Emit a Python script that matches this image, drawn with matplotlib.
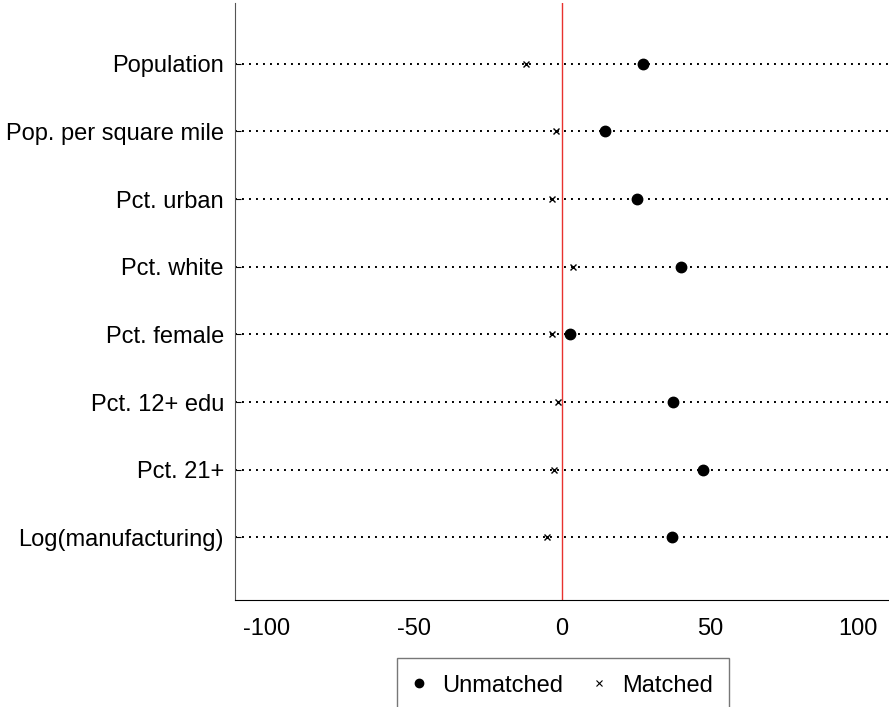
import matplotlib
matplotlib.use("Agg")
import matplotlib.pyplot as plt
from matplotlib.lines import Line2D

plt.rcParams['font.family'] = ['Liberation Sans', 'DejaVu Sans']

categories = ["Population", "Pop. per square mile", "Pct. urban", "Pct. white",
              "Pct. female", "Pct. 12+ edu", "Pct. 21+", "Log(manufacturing)"]
unmatched = [27.3, 14.5, 25.3, 40.1, 2.7, 37.4, 47.5, 37.1]
matched = [-12.1, -2.0, -3.4, 3.7, -3.4, -1.3, -2.7, -5.1]
xticks = [-100, -50, 0, 50, 100]

fig = plt.figure(figsize=(8.89, 7.07), dpi=100)
ax = fig.add_axes([0.2644, 0.151, 0.7356, 0.845])

n = len(categories)
ypos = list(range(n, 0, -1))

for y in ypos:
    ax.axhline(y, color='black', linestyle=(0, (1, 2.6)), linewidth=1.4, zorder=1)
ax.axvline(0, color='#e8322e', linewidth=1.0, zorder=2)

ax.plot(unmatched, ypos, linestyle='none', marker='o', color='black', markersize=7.5, zorder=3)
ax.plot(matched, ypos, linestyle='none', marker='x', color='black', markersize=5,
        markeredgewidth=1.0, zorder=3)

ax.set_xlim(-110.5, 110.5)
ax.set_ylim(0.07, 8.9)
ax.set_yticks(ypos)
ax.set_yticklabels(categories, fontsize=17)
ax.set_xticks(xticks)
ax.set_xticklabels([str(t) for t in xticks], fontsize=17)
ax.tick_params(axis='x', length=0, pad=13)
ax.tick_params(axis='y', direction='in', length=4, pad=8, color='black')

for s in ['top', 'right']:
    ax.spines[s].set_visible(False)
ax.spines['left'].set_color('#555555')
ax.spines['bottom'].set_color('black')

handles = [Line2D([], [], linestyle='none', marker='o', color='black', markersize=6),
           Line2D([], [], linestyle='none', marker='x', color='black', markersize=4,
                  markeredgewidth=0.8)]
leg = fig.legend(handles, ["Unmatched", "Matched"], loc='upper center',
                 bbox_to_anchor=(563 / 889, 1 - 658 / 707), borderaxespad=0,
                 ncol=2, fontsize=17,
                 frameon=True, fancybox=False, edgecolor='#555555',
                 handletextpad=0.7, columnspacing=1.3, borderpad=0.7, handlelength=0.5)
leg.get_frame().set_linewidth(1.0)

fig.savefig("out.png", dpi=100)
